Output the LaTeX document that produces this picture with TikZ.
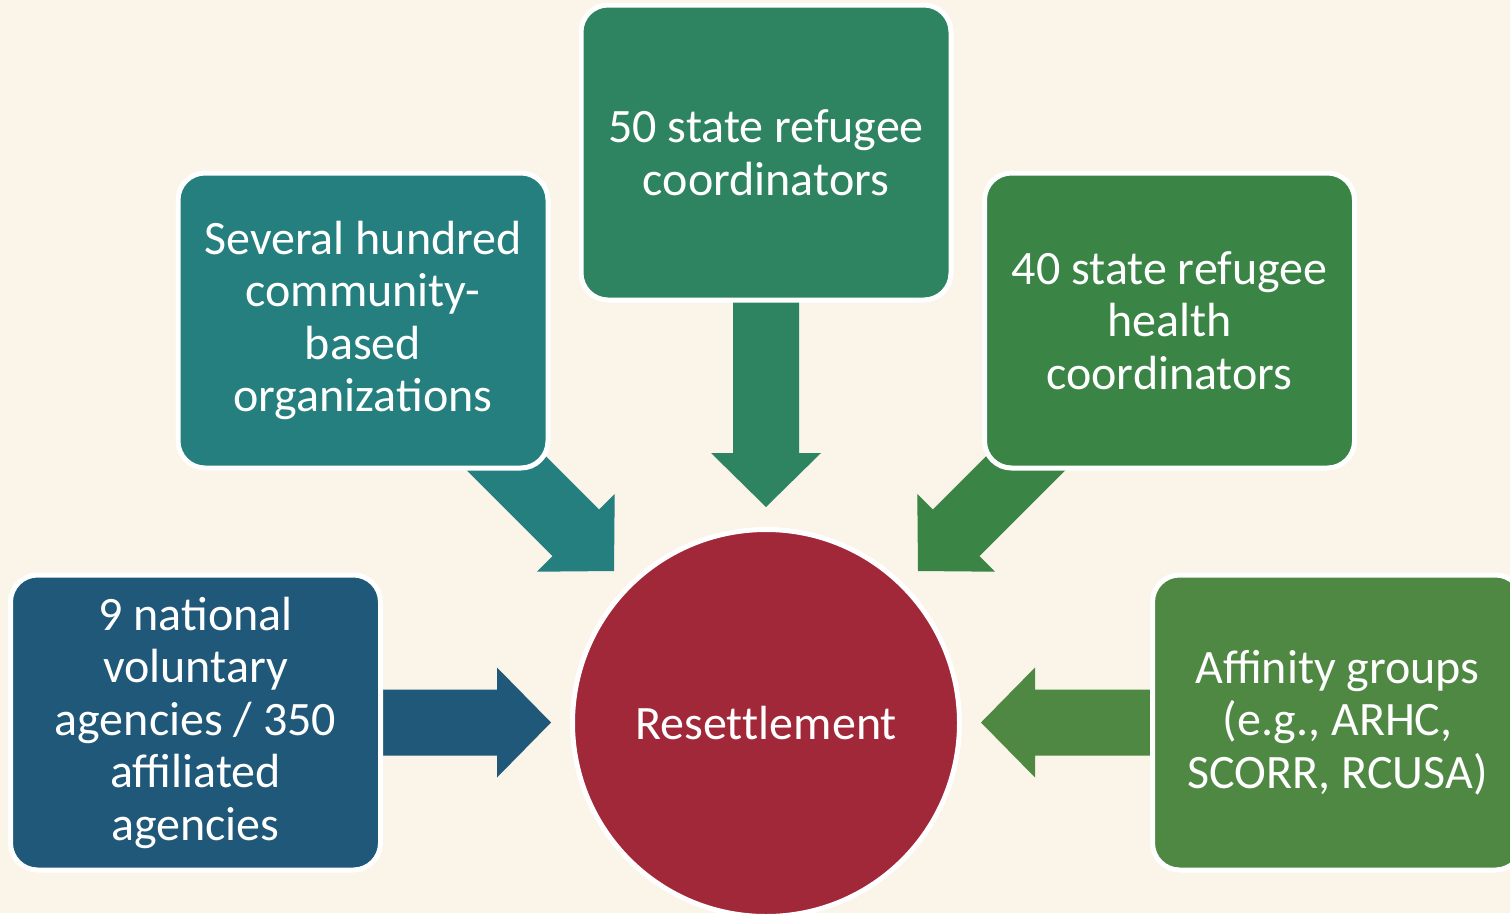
\documentclass[tikz,border=0pt]{standalone}
\usepackage{fontspec}
\setmainfont{Carlito}
\definecolor{bgc}{HTML}{FAF4E9}
\definecolor{topc}{HTML}{2E8461}
\definecolor{ulc}{HTML}{247F7E}
\definecolor{urc}{HTML}{3A8446}
\definecolor{llc}{HTML}{1F5878}
\definecolor{lrc}{HTML}{4E8842}
\definecolor{circc}{HTML}{A12838}
\tikzset{
  box/.style={rectangle, rounded corners=27pt, minimum width=370pt, minimum height=295pt,
    draw=white, line width=5pt, text=white, align=center, inner sep=0pt,
    font=\fontsize{48}{52.5}\selectfont},
  hub/.style={circle, minimum size=387pt, draw=white, line width=5pt, fill=circc,
    text=white, inner sep=0pt, font=\fontsize{48}{52.5}\selectfont},
}
% block arrow: tip at origin, pointing along +x, length #1
\newcommand{\blockarrow}[1]{(-#1,-33) -- (-54,-33) -- (-54,-55) -- (0,0) -- (-54,55) -- (-54,33) -- (-#1,33) -- cycle}
\begin{document}
\begin{tikzpicture}[x=1pt,y=-1pt]
\fill[bgc] (0,0) rectangle (1510,913);
\useasboundingbox (0,0) rectangle (1510,913);
% tips of the block arrows
\coordinate (tT) at (766,507);
\coordinate (tUL) at (614,571);
\coordinate (tUR) at (918,571);
\coordinate (tL) at (551,722.5);
\coordinate (tR) at (981,722.5);
% arrows (behind boxes)
\fill[topc, shift={(tT)}, rotate=-90] \blockarrow{230};
\fill[ulc, shift={(tUL)}, rotate=-45] \blockarrow{200};
\fill[urc, shift={(tUR)}, rotate=-135] \blockarrow{200};
\fill[llc, shift={(tL)}, rotate=0] \blockarrow{190};
\fill[lrc, shift={(tR)}, rotate=180] \blockarrow{190};
% boxes
\node[box, fill=topc] (top) at (766,152.5) {50 state refugee\\coordinators};
\node[box, fill=ulc] (ul) at (363,320.5) {Several hundred\\community-\\based\\organizations};
\node[box, fill=urc] (ur) at (1169.5,320.5) {40 state refugee\\health\\coordinators};
\node[box, fill=llc] (ll) at (195.5,722.5) {9 national\\voluntary\\agencies / 350\\affiliated\\agencies};
\node[box, fill=lrc] (lr) at (1337.5,722.5) {Affinity groups\\(e.g., ARHC,\\SCORR, RCUSA)};
\node[hub] (hub) at (766,723) {Reset\kern0pt t\kern0pt lement};
\end{tikzpicture}
\end{document}
